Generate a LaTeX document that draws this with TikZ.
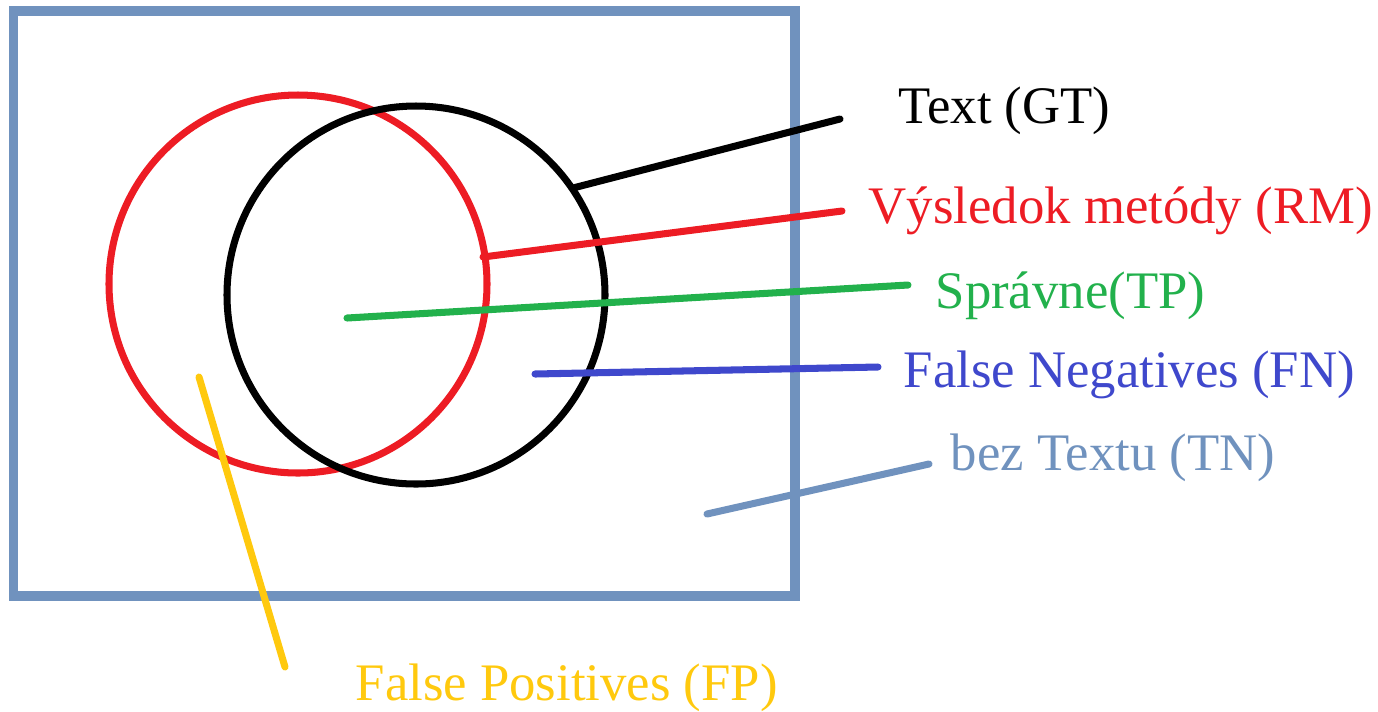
\documentclass[tikz,border=0pt]{standalone}
\usepackage{fontspec}
\setmainfont{Liberation Serif}
\usepackage{tikz}
\usetikzlibrary{calc}
\definecolor{BoxBlue}{RGB}{112,146,190}
\definecolor{MRed}{RGB}{237,28,36}
\definecolor{MGreen}{RGB}{34,177,76}
\definecolor{MBlue}{RGB}{63,72,204}
\definecolor{MYellow}{RGB}{255,201,14}

\begin{document}
\begin{tikzpicture}[x=0.01cm, y=-0.01cm, line cap=round,
		lbl/.style={anchor=base west, inner sep=0pt, font=\fontsize{15}{18}\selectfont},
		ptr/.style={line width=2pt}]
		\useasboundingbox (0,0) rectangle (1378,711);
		
		% ramec (vsetky pixely)
		\draw[BoxBlue, line width=2.6pt, line cap=butt] (13.5,11) rectangle (795,596);
		
		% kruhy RM a GT
		\coordinate (RM) at (298,284);
		\coordinate (GT) at (416,295);
		\draw[MRed, line width=2pt] (RM) circle (189);
		\draw[black, line width=2pt] (GT) circle (189);
		
		% popisky
		\node[lbl] (gtL) at (898,123) {Text (GT)};
		\node[lbl, text=MRed] (rmL) at (868,223) {Výsledok metódy (RM)};
		\node[lbl, text=MGreen] (tpL) at (935,308) {Správne(TP)};
		\node[lbl, text=MBlue] (fnL) at (903,387) {False Negatives (FN)};
		\node[lbl, text=BoxBlue] (tnL) at (950,470) {bez Textu (TN)};
		\node[lbl, text=MYellow] (fpL) at (355,700) {False Positives (FP)};
		
		% koncove body ciar
		\coordinate (gtA) at (573,188);  \coordinate (gtB) at (840,119);
		\coordinate (rmA) at (483,257);  \coordinate (rmB) at (842,211);
		\coordinate (tpA) at (347,318);  \coordinate (tpB) at (908,285);
		\coordinate (fnA) at (535,374);  \coordinate (fnB) at (878,367);
		\coordinate (tnA) at (707,514);  \coordinate (tnB) at (929,464);
		\coordinate (fpA) at (199,377);  \coordinate (fpB) at (285,667);
		
		\draw[ptr, black] (gtA) -- (gtB);
		\draw[ptr, MRed] (rmA) -- (rmB);
		\draw[ptr, MGreen] (tpA) -- (tpB);
		\draw[ptr, MBlue] (fnA) -- (fnB);
		\draw[ptr, BoxBlue] (tnA) -- (tnB);
		\draw[ptr, MYellow] (fpA) -- (fpB);
	\end{tikzpicture}
\end{document}
